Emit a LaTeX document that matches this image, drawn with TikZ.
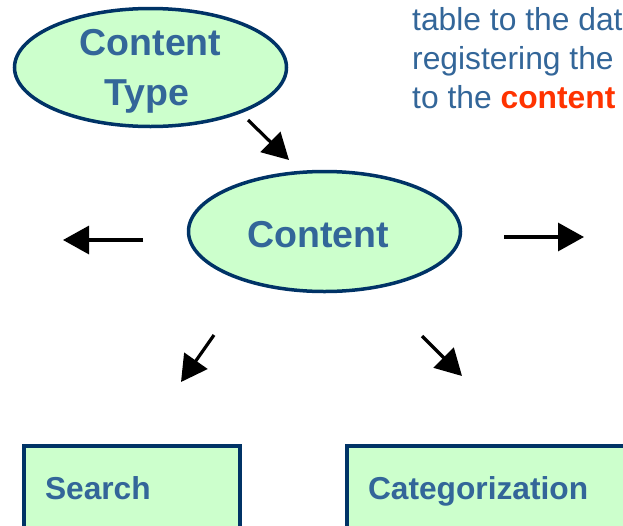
\documentclass[tikz,border=0pt]{standalone}
\usepackage{fontspec}
\setmainfont{Liberation Sans}
\usepackage{tikz}
\usetikzlibrary{shapes,shapes.geometric,arrows.meta}
\definecolor{navy}{HTML}{003366}
\definecolor{mint}{HTML}{CCFFCC}
\definecolor{steel}{HTML}{336699}
\definecolor{flame}{HTML}{FF3300}
\tikzstyle{entity} = [ellipse, draw=navy, fill=mint, line width=3.5pt, inner sep=0pt, text=steel, align=center, font=\fontsize{37.5}{50}\selectfont\bfseries]
\tikzstyle{module} = [rectangle, draw=navy, fill=mint, line width=4pt, anchor=north west, inner xsep=21pt, inner ysep=0pt, text height=53pt, text depth=70pt, align=left, text=steel, font=\fontsize{31.7}{38}\selectfont\bfseries]
\tikzstyle{flow} = [draw, line width=3.2pt, -{Triangle[length=26pt,width=28pt]}]
\tikzstyle{note} = [anchor=north west, inner sep=0pt, align=left, text=steel, font=\fontsize{31.8}{39.3}\selectfont]

\begin{document}
\begin{tikzpicture}[x=1pt, y=-1pt]
	\useasboundingbox (0,0) rectangle (623,525);

	% place nodes
	\node [entity, minimum width=272pt, minimum height=118pt, text depth=0pt] (CT) at (150.5,67.5) {Content\\Type\hspace*{7pt}};
	\node [entity, minimum width=272pt, minimum height=120pt, text height=31pt, text depth=0pt] (C) at (324.5,231.5) {Content\hspace*{13pt}};
	\node [module, text width=174pt] (S) at (22,444) {Search};
	\node [module, text width=300pt] (K) at (345,444) {Categorization};
	\node [note] (T) at (412,7) {table to the dat\\registering the\\to the \textcolor{flame}{\textbf{content}}};

	% arrow ends
	\coordinate (CTout) at (248,120);
	\coordinate (Cin)   at (289,160);
	\coordinate (Lout)  at (143,240);
	\coordinate (Lin)   at (63,240);
	\coordinate (Rout)  at (504,237);
	\coordinate (Rin)   at (584,237);
	\coordinate (Sout)  at (214,335);
	\coordinate (Sin)   at (181,382);
	\coordinate (Kout)  at (422,336);
	\coordinate (Kin)   at (462,376);

	% draw edges
	\path [flow] (CTout) -- (Cin);
	\path [flow] (Lout) -- (Lin);
	\path [flow] (Rout) -- (Rin);
	\path [flow] (Sout) -- (Sin);
	\path [flow] (Kout) -- (Kin);
\end{tikzpicture}
\end{document}
